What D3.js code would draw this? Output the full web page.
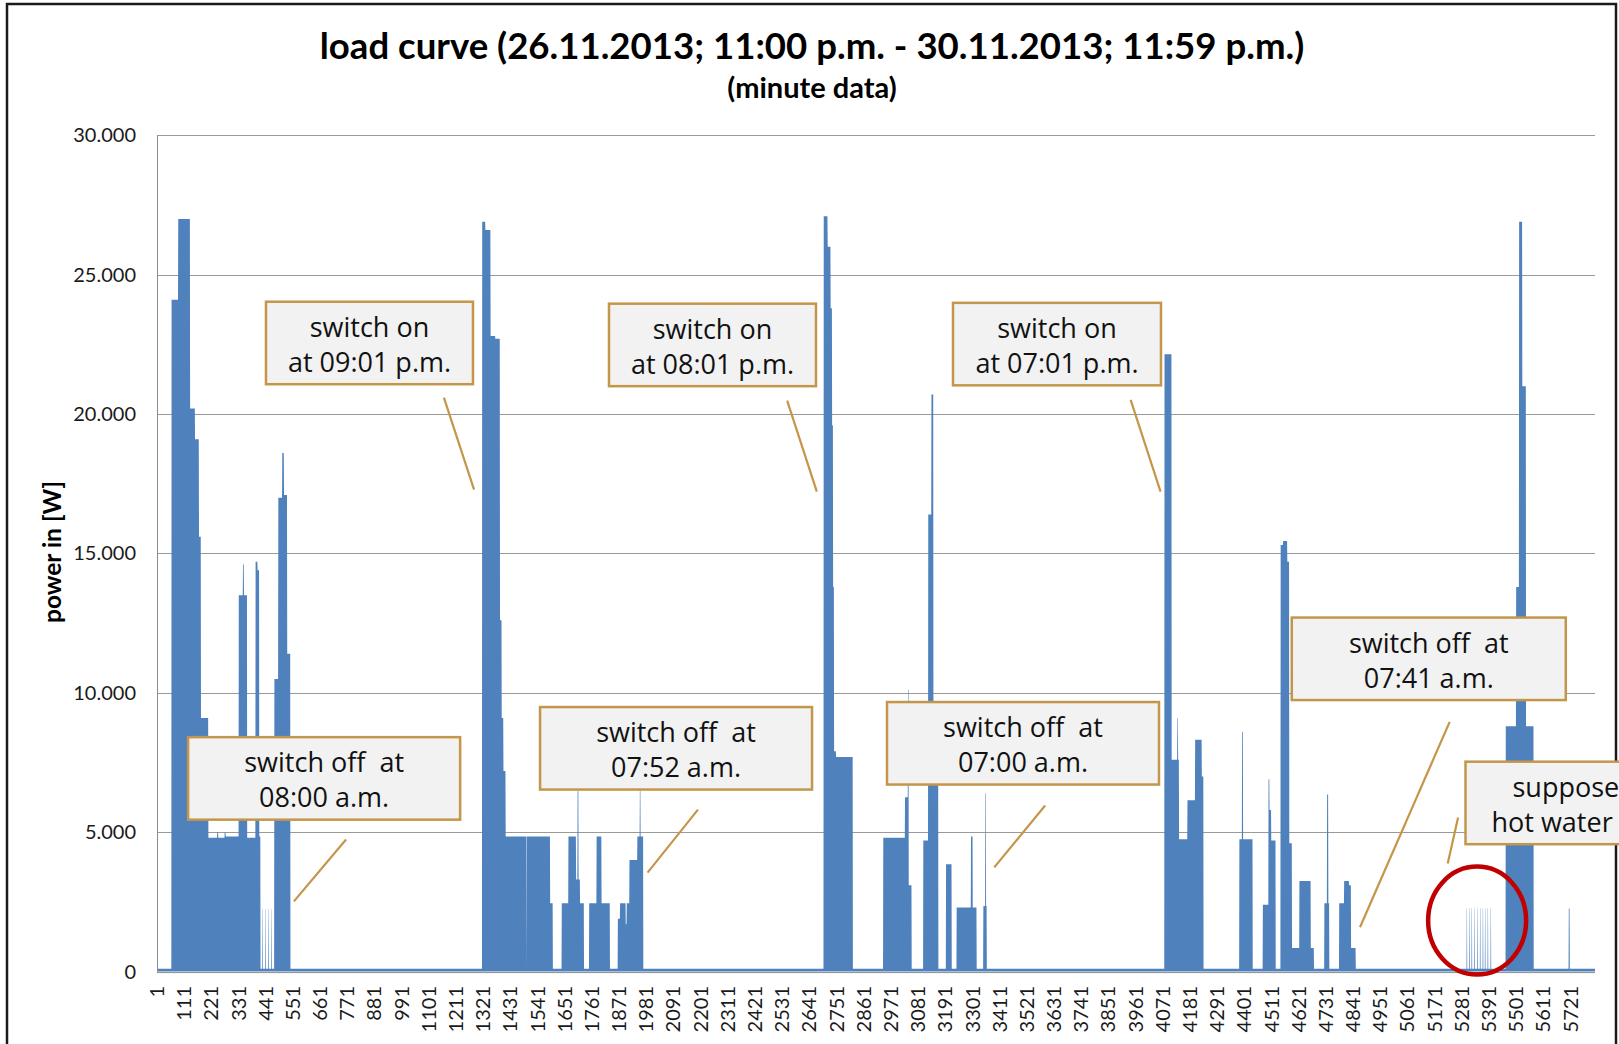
<!DOCTYPE html>
<html>
<head>
<meta charset="utf-8">
<script src="https://cdn.jsdelivr.net/npm/d3@7"></script>
<style>
  body { margin: 0; background: #fff; }
  svg { display: block; }
</style>
</head>
<body>
<script>
// minute data, index 1 = 26.11.2013 11:00 p.m., 5820 minutes in total
let minutes = 5820
let standby = 100

// [from minute, to minute, watts]
let night1 = [
    [60, 87, 24100], [87, 135, 27000], [135, 155, 20200], [155, 171, 19100],
    [171, 179, 15600], [179, 209, 9100], [209, 245, 4800], [245, 249, 5000],
    [249, 275, 4800], [275, 279, 5000], [279, 332, 4850], [332, 349, 13500],
    [349, 353, 14600], [353, 366, 13500], [366, 400, 4800], [400, 408, 14700],
    [408, 415, 14400], [415, 420, 4850],
    [428, 430, 2250], [440, 442, 2250], [452, 454, 2250], [464, 466, 2250],
    [476, 492, 10500], [492, 508, 17000], [508, 515, 18600], [515, 528, 17100],
    [528, 541, 11400]
]
let night2 = [
    [1317, 1330, 26900], [1330, 1351, 26600], [1351, 1370, 22800], [1370, 1389, 22700],
    [1389, 1396, 12600], [1396, 1403, 9100], [1403, 1412, 7200], [1412, 1497, 4850],
    [1498, 1592, 4850], [1592, 1603, 2450],
    [1639, 1666, 2450], [1666, 1697, 4850], [1697, 1703, 3300], [1703, 1707, 6500],
    [1707, 1713, 3300], [1713, 1729, 2450],
    [1750, 1780, 2450], [1780, 1800, 4850], [1800, 1834, 2450],
    [1866, 1875, 1900], [1875, 1898, 2450], [1898, 1902, 1700], [1902, 1913, 2450],
    [1913, 1945, 4000], [1945, 1955, 4850], [1955, 1958, 6500], [1958, 1969, 4850]
]
let night3 = [
    [2699, 2715, 27100], [2715, 2727, 26000], [2727, 2733, 23800], [2733, 2737, 19600],
    [2737, 2741, 13800], [2741, 2749, 7900], [2749, 2817, 7700],
    [2940, 3028, 4800], [3028, 3040, 6250], [3040, 3043, 10100], [3043, 3055, 3100],
    [3102, 3122, 4700], [3122, 3135, 16400], [3135, 3143, 20700], [3143, 3163, 8200],
    [3194, 3217, 3850],
    [3237, 3295, 2300], [3295, 3302, 4850], [3302, 3318, 2300],
    [3345, 3353, 2350], [3353, 3356, 6400], [3356, 3359, 2350]
]
let night4 = [
    [4078, 4107, 22150], [4107, 4130, 7600], [4130, 4133, 9100], [4133, 4137, 7600],
    [4137, 4171, 4750], [4171, 4202, 6150], [4202, 4229, 8320], [4229, 4236, 7000],
    [4381, 4392, 4750], [4392, 4396, 8600], [4396, 4435, 4750],
    [4476, 4499, 2400], [4499, 4503, 6900], [4503, 4510, 5800], [4510, 4528, 4700],
    [4548, 4558, 15300], [4558, 4575, 15450], [4575, 4583, 14700], [4583, 4594, 4600],
    [4594, 4624, 850], [4624, 4670, 3250], [4670, 4683, 850],
    [4725, 4736, 2450], [4736, 4741, 6350], [4741, 4745, 2450],
    [4785, 4805, 2450], [4805, 4825, 3250], [4825, 4833, 3100], [4833, 4852, 850]
]
let hotWater = [
    [5301, 5303, 2270], [5312, 5314, 2270], [5321, 5323, 2270], [5332, 5334, 2270],
    [5344, 5346, 2270], [5355, 5357, 2270], [5366, 5368, 2270], [5375, 5377, 2270],
    [5386, 5388, 2270], [5398, 5400, 2270]
]
let evening = [
    [5459, 5501, 8800], [5501, 5513, 13800], [5513, 5526, 26900], [5526, 5541, 21000],
    [5541, 5572, 8800], [5714, 5718, 2260]
]

let yTicks = [0, 5000, 10000, 15000, 20000, 25000, 30000]
let xTickLabels = [1, 111, 221, 331, 441, 551, 661, 771, 881, 991, 1101, 1211, 1321,
    1431, 1541, 1651, 1761, 1871, 1981, 2091, 2201, 2311, 2421, 2531, 2641, 2751,
    2861, 2971, 3081, 3191, 3301, 3411, 3521, 3631, 3741, 3851, 3961, 4071, 4181,
    4291, 4401, 4511, 4621, 4731, 4841, 4951, 5061, 5171, 5281, 5391, 5501, 5611, 5721]

// callouts: anchor of the box and leader line in data units (minute, W)
let annotations = [
    { at: [442, 24030], w: 207, lines: ['switch on', 'at 09:01 p.m.'], from: [1162, 20590], to: [1284, 17290] },
    { at: [1830, 23960], w: 207, lines: ['switch on', 'at 08:01 p.m.'], from: [2551, 20480], to: [2671, 17220] },
    { at: [3222, 23990], w: 208, lines: ['switch on', 'at 07:01 p.m.'], from: [3941, 20510], to: [4062, 17220] },
    { at: [127, 8410], w: 272, lines: ['switch off  at', '08:00 a.m.'], from: [766, 4740], to: [555, 2520] },
    { at: [1551, 9490], w: 272, lines: ['switch off  at', '07:52 a.m.'], from: [2190, 5810], to: [1986, 3550] },
    { at: [2955, 9670], w: 272, lines: ['switch off  at', '07:00 a.m.'], from: [3595, 5960], to: [3389, 3740] },
    { at: [4593, 12700], w: 274, lines: ['switch off  at', '07:41 a.m.'], from: [5232, 8960], to: [4869, 1590] },
    { at: [5296, 7530], w: 300, lines: ['suppose', 'hot water'], starts: [47, 26], from: [5266, 5530], to: [5224, 3880] }
]
let circleAt = [5343, 1830]

let width = 1619
let height = 1044
let plot = { left: 157, right: 1595, top: 135.3, bottom: 971.6 }

let values = new Array(minutes).fill(standby)
let segments = [].concat(night1, night2, night3, night4, hotWater, evening)
segments.forEach(function(s){
    for (let i = s[0]; i < s[1]; i++) values[i - 1] = s[2]
})

let x = d3.scaleLinear()
    .domain([1, minutes])
    .range([plot.left, plot.right])

let y = d3.scaleLinear()
    .domain([0, 30000])
    .range([plot.bottom, plot.top])

let fmt = d3.formatLocale({ decimal: ',', thousands: '.', grouping: [3], currency: ['', ''] }).format(',')

let svg = d3.select('body')
    .append('svg')
        .attr('width', width)
        .attr('height', height)

// chart area frame
svg.append('rect')
    .attr('x', 7)
    .attr('y', 4)
    .attr('width', 1609)
    .attr('height', 1100)
    .attr('fill', '#fff')
    .attr('stroke', '#1a1a1a')
    .attr('stroke-width', 2.5)

svg.append('text')
    .attr('x', 812)
    .attr('y', 59)
    .attr('text-anchor', 'middle')
    .attr('font-family', 'Lato, sans-serif')
    .attr('font-weight', 'bold')
    .attr('font-size', 36.6)
    .text('load curve (26.11.2013; 11:00 p.m. - 30.11.2013; 11:59 p.m.)')

svg.append('text')
    .attr('x', 812)
    .attr('y', 98)
    .attr('text-anchor', 'middle')
    .attr('font-family', 'Lato, sans-serif')
    .attr('font-weight', 'bold')
    .attr('font-size', 29)
    .text('(minute data)')

svg.append('text')
    .attr('transform', 'translate(61,552) rotate(-90)')
    .attr('text-anchor', 'middle')
    .attr('font-family', 'Lato, sans-serif')
    .attr('font-weight', 'bold')
    .attr('font-size', 24.5)
    .text('power in [W]')

// gridlines
svg.append('g')
    .selectAll('line')
    .data(yTicks.filter(d => d > 0))
    .enter()
    .append('line')
        .attr('x1', plot.left)
        .attr('x2', plot.right)
        .attr('y1', d => Math.round(y(d)) + 0.5)
        .attr('y2', d => Math.round(y(d)) + 0.5)
        .attr('stroke', '#9a9a9a')
        .attr('stroke-width', 1)

let area = d3.area()
    .x((d, i) => x(i + 1))
    .y0(y(0))
    .y1(d => y(d))

svg.append('path')
    .datum(values)
    .attr('d', area)
    .attr('fill', '#4F81BD')

// axis lines
svg.append('line')
    .attr('x1', plot.left + 0.5).attr('x2', plot.left + 0.5)
    .attr('y1', plot.top).attr('y2', plot.bottom)
    .attr('stroke', '#8c8c8c')
svg.append('line')
    .attr('x1', plot.left).attr('x2', plot.right)
    .attr('y1', plot.bottom + 1).attr('y2', plot.bottom + 1)
    .attr('stroke', '#8c8c8c')

svg.append('g')
    .selectAll('text')
    .data(yTicks)
    .enter()
    .append('text')
        .attr('x', 136)
        .attr('y', d => y(d))
        .attr('dy', '0.35em')
        .attr('text-anchor', 'end')
        .attr('font-family', 'Lato, sans-serif')
        .attr('font-size', 20)
        .attr('fill', '#1a1a1a')
        .text(d => fmt(d))

svg.append('g')
    .selectAll('text')
    .data(xTickLabels)
    .enter()
    .append('text')
        .attr('transform', d => 'translate(' + x(d) + ',986) rotate(-90)')
        .attr('dy', '0.35em')
        .attr('text-anchor', 'end')
        .attr('font-family', 'Lato, sans-serif')
        .attr('font-size', 20)
        .attr('fill', '#1a1a1a')
        .text(d => d)

// callouts
let notes = svg.append('g')
    .attr('font-family', '"Open Sans", sans-serif')
    .attr('font-size', 27)

annotations.forEach(function(a){
    let bx = x(a.at[0])
    let by = y(a.at[1])
    notes.append('line')
        .attr('x1', x(a.from[0]))
        .attr('y1', y(a.from[1]))
        .attr('x2', x(a.to[0]))
        .attr('y2', y(a.to[1]))
        .attr('stroke', '#C4964A')
        .attr('stroke-width', 2.2)
    notes.append('rect')
        .attr('x', bx)
        .attr('y', by)
        .attr('width', a.w)
        .attr('height', 82.5)
        .attr('fill', '#F2F2F2')
        .attr('stroke', '#C4964A')
        .attr('stroke-width', 2.5)
    a.lines.forEach(function(t, i){
        notes.append('text')
            .attr('x', a.starts ? bx + a.starts[i] : bx + a.w / 2)
            .attr('y', by + 35 + i * 35)
            .attr('text-anchor', a.starts ? 'start' : 'middle')
            .attr('fill', '#111')
            .style('white-space', 'pre')
            .text(t)
    })
})

svg.append('ellipse')
    .attr('cx', x(circleAt[0]))
    .attr('cy', y(circleAt[1]))
    .attr('rx', 49)
    .attr('ry', 54)
    .attr('fill', 'none')
    .attr('stroke', '#C00000')
    .attr('stroke-width', 4.5)
</script>
</body>
</html>
